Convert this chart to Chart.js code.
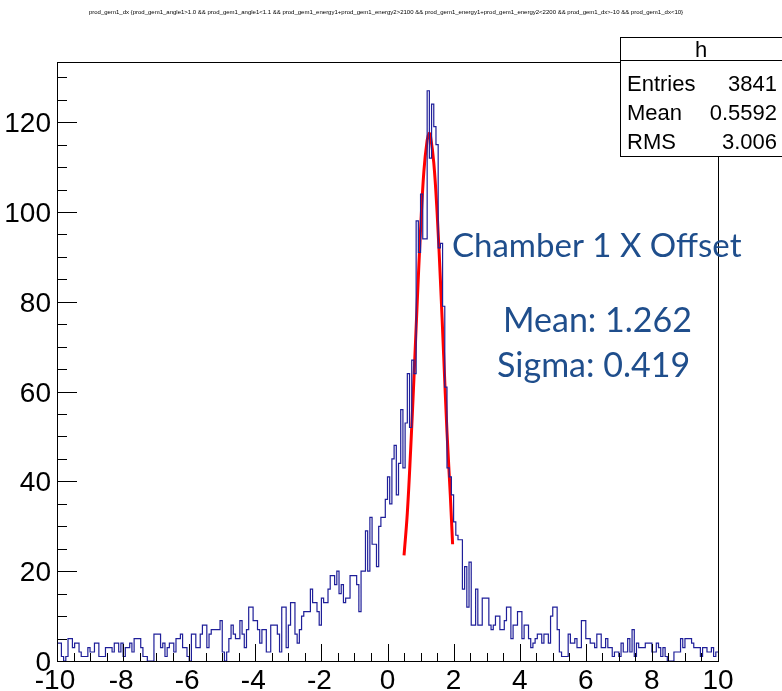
<!DOCTYPE html>
<html lang="en">
<head>
<meta charset="UTF-8">
<title>prod_gem1_dx</title>
<script src="https://cdn.jsdelivr.net/npm/chart.js"></script>
<style>
  html, body { margin: 0; padding: 0; background: #fff; }
  #wrap { width: 782px; height: 691px; }
</style>
</head>
<body>
<div id="wrap"><canvas id="dxChart" width="782" height="691"></canvas></div>
<script>
// histogram: 300 bins from -10 to 10
const xMin = -10;
const xMax = 10;
const counts = [
  4, 4, 1, 0, 1, 5, 5, 3, 4, 4, 2, 1, 1, 1, 3,
  2, 2, 4, 4, 1, 1, 1, 3, 3, 3, 2, 4, 4, 2, 4,
  1, 3, 3, 4, 2, 5, 5, 5, 3, 1, 1, 0, 0, 0, 6,
  6, 6, 3, 4, 1, 3, 4, 4, 2, 5, 5, 6, 3, 3, 1,
  0, 6, 6, 3, 3, 6, 8, 8, 3, 6, 7, 7, 7, 7, 9,
  2, 0, 2, 5, 8, 6, 5, 5, 9, 6, 3, 7, 12, 12, 9,
  9, 7, 4, 7, 7, 2, 2, 8, 8, 8, 6, 2, 12, 12, 3,
  8, 13, 13, 6, 4, 7, 10, 11, 11, 11, 16, 13, 13, 11, 8,
  14, 13, 13, 16, 19, 19, 17, 20, 15, 17, 13, 14, 14, 19, 19,
  19, 17, 11, 20, 20, 29, 20, 32, 26, 26, 21, 30, 32, 32, 36,
  41, 35, 45, 48, 37, 44, 56, 43, 53, 64, 52, 67, 64, 98, 91,
  104, 94, 94, 127, 112, 124, 119, 115, 92, 93, 79, 61, 43, 41, 37,
  31, 28, 27, 27, 16, 21, 12, 22, 8, 8, 16, 8, 8, 14, 14,
  14, 8, 7, 8, 10, 10, 7, 7, 9, 12, 12, 5, 8, 8, 11,
  11, 5, 8, 8, 5, 3, 4, 5, 6, 6, 4, 6, 6, 4, 10,
  12, 12, 7, 2, 1, 1, 1, 6, 4, 4, 5, 3, 3, 9, 9,
  5, 5, 4, 4, 3, 6, 6, 3, 3, 5, 3, 3, 1, 2, 2,
  1, 4, 2, 2, 5, 2, 7, 1, 4, 3, 3, 3, 4, 4, 4,
  2, 2, 4, 3, 1, 3, 1, 0, 0, 0, 2, 2, 2, 5, 3,
  5, 5, 5, 4, 3, 3, 3, 1, 3, 3, 2, 2, 3, 1, 2
];

// gaus fit curve
const fitX = [0.5, 0.6, 0.7, 0.8, 0.9, 1.0, 1.1, 1.2, 1.26, 1.3, 1.4, 1.5, 1.6, 1.7, 1.8, 1.9, 1.97];
const fitY = [23.5, 33, 47, 63, 80, 96, 109, 116, 117.5, 117, 111, 100, 85, 68, 51, 37, 26];

const xTickLabels = [-10, -8, -6, -4, -2, 0, 2, 4, 6, 8, 10];
const yTickLabels = [0, 20, 40, 60, 80, 100, 120];

const histTitle = "prod_gem1_dx {prod_gem1_angle1>1.0 && prod_gem1_angle1<1.1 && prod_gem1_energy1+prod_gem1_energy2>2100 && prod_gem1_energy1+prod_gem1_energy2<2200 && prod_gem1_dx>-10 && prod_gem1_dx<10}";
const statsName = "h";
const statsKeys = ["Entries", "Mean", "RMS"];
const statsVals = ["3841", "0.5592", "3.006"];
const noteLines = ["Chamber 1 X Offset", "Mean: 1.262", "Sigma: 0.419"];

const binW = (xMax - xMin) / counts.length;
const histPoints = counts.map((c, i) => ({ x: xMin + i * binW, y: c }));
histPoints.push({ x: xMax, y: counts[counts.length - 1] });
const fitPoints = fitX.map((x, i) => ({ x: x, y: fitY[i] }));

const rootFont = '"Liberation Sans", Arial, Helvetica, sans-serif';

const rootAxes = {
  id: 'rootAxes',
  afterDraw(chart) {
    const ctx = chart.ctx;
    const a = chart.chartArea;
    const xs = chart.scales.x, ys = chart.scales.y;
    ctx.save();
    ctx.strokeStyle = '#000';
    ctx.lineWidth = 1;
    // frame
    ctx.strokeRect(Math.round(a.left) + 0.5, Math.round(a.top) + 0.5,
      Math.round(a.right - a.left), Math.round(a.bottom - a.top));

    // x ticks, pointing up into the frame
    ctx.beginPath();
    for (let v = xMin; v <= xMax + 1e-9; v += 0.5) {
      const px = Math.round(xs.getPixelForValue(v)) + 0.5;
      const major = Math.abs(v / 2 - Math.round(v / 2)) < 1e-6;
      ctx.moveTo(px, a.bottom);
      ctx.lineTo(px, a.bottom - (major ? 17 : 8));
    }
    // y ticks, pointing right into the frame
    for (let v = 0; v <= ys.max; v += 5) {
      const py = Math.round(ys.getPixelForValue(v)) + 0.5;
      const major = v % 20 === 0;
      ctx.moveTo(a.left, py);
      ctx.lineTo(a.left + (major ? 20 : 10), py);
    }
    ctx.stroke();

    // tick labels
    ctx.fillStyle = '#000';
    ctx.font = '28px ' + rootFont;
    ctx.textAlign = 'center';
    ctx.textBaseline = 'alphabetic';
    xTickLabels.forEach(v => {
      ctx.fillText(String(v), xs.getPixelForValue(v) - (v < 0 ? 2 : 0), 689);
    });
    ctx.textAlign = 'right';
    yTickLabels.forEach(v => {
      ctx.fillText(String(v), 51, ys.getPixelForValue(v) + 10);
    });

    // title
    ctx.font = '6px ' + rootFont;
    ctx.textAlign = 'center';
    ctx.fillText(histTitle, 386, 14);

    // stats box
    const bx = 620.5, by = 37.5, bw = 170, bh = 119;
    ctx.fillStyle = '#fff';
    ctx.fillRect(bx, by, bw, bh);
    ctx.strokeRect(bx, by, bw, bh);
    ctx.beginPath();
    ctx.moveTo(bx, 60.5);
    ctx.lineTo(bx + bw, 60.5);
    ctx.stroke();
    ctx.fillStyle = '#000';
    ctx.font = '22px ' + rootFont;
    ctx.textAlign = 'center';
    ctx.fillText(statsName, 701, 57);
    statsKeys.forEach((k, i) => {
      const y = 91 + i * 29;
      ctx.textAlign = 'left';
      ctx.fillText(k, 627, y);
      ctx.textAlign = 'right';
      ctx.fillText(statsVals[i], 777, y);
    });

    // fit annotation
    ctx.fillStyle = '#1f4e8c';
    ctx.textAlign = 'left';
    ctx.font = '33px Lato, "Open Sans", sans-serif';
    ctx.fillText(noteLines[0], 452, 257);
    ctx.font = '34px Lato, "Open Sans", sans-serif';
    ctx.fillText(noteLines[1], 503, 332);
    ctx.fillText(noteLines[2], 497, 377);
    ctx.restore();
  }
};

new Chart(document.getElementById('dxChart').getContext('2d'), {
  type: 'line',
  data: {
    datasets: [
      {
        label: 'h',
        data: histPoints,
        stepped: true,
        borderColor: '#1f1f99',
        borderWidth: 1.2,
        pointRadius: 0,
        fill: false
      },
      {
        label: 'gaus',
        data: fitPoints,
        borderColor: '#ff0000',
        borderWidth: 3,
        tension: 0.4,
        pointRadius: 0,
        fill: false
      }
    ]
  },
  options: {
    responsive: false,
    animation: false,
    devicePixelRatio: 1,
    layout: { padding: { left: 57, right: 64, top: 62, bottom: 30 } },
    scales: {
      x: { type: 'linear', min: xMin, max: xMax, display: false },
      y: { type: 'linear', min: 0, max: 133.4, display: false }
    },
    plugins: {
      legend: { display: false },
      tooltip: { enabled: false },
      title: { display: false }
    }
  },
  plugins: [rootAxes]
});
</script>
</body>
</html>
